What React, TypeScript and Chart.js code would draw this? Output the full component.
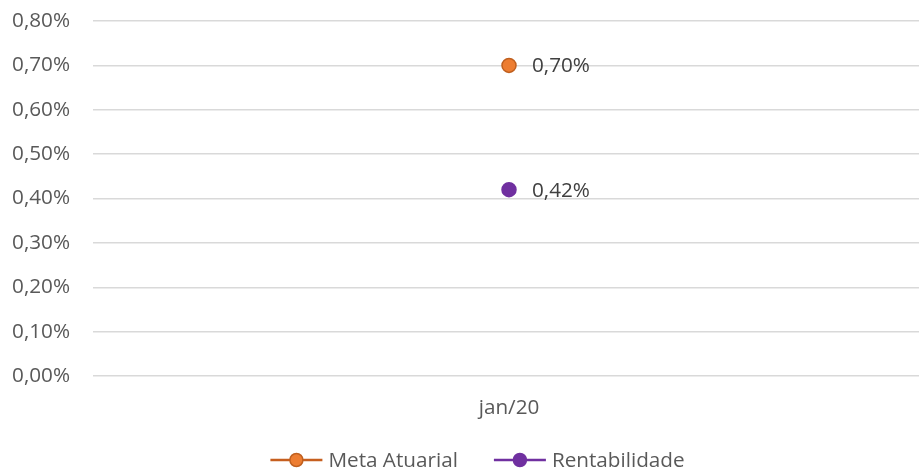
import React, { useEffect, useRef } from "react";
import { Chart, registerables } from "chart.js";

Chart.register(...registerables);

const categories = ["jan/20"];
const seriesNames = ["Meta Atuarial", "Rentabilidade"];
const metaAtuarial = [0.7];
const rentabilidade = [0.42];
const yMin = 0;
const yMax = 0.8;
const yStep = 0.1;

const FONT = "'Open Sans', sans-serif";
const FS = 20.7;
const TEXT = "#595959";
const CANVAS_W = 925;
const VIEW_W = 919;

const SERIES_STYLE = [
  { line: "#C65F1F", fill: "#ED7D31", border: "#C0601F" },
  { line: "#7030A0", fill: "#7030A0", border: "#7030A0" },
];

const fmt = (v: number) => v.toFixed(2).replace(".", ",") + "%";

const labelPlugin = {
  id: "pointLabels",
  afterDatasetsDraw(chart: any) {
    const ctx = chart.ctx;
    ctx.save();
    ctx.font = `${FS}px ${FONT}`;
    ctx.fillStyle = "#404040";
    ctx.textAlign = "left";
    ctx.textBaseline = "middle";
    chart.data.datasets.forEach((ds: any, i: number) => {
      const meta = chart.getDatasetMeta(i);
      meta.data.forEach((pt: any, j: number) => {
        ctx.fillText(fmt(ds.data[j]), pt.x + 23, pt.y + 1);
      });
    });
    ctx.restore();
  },
};

const legendPlugin = {
  id: "lineMarkerLegend",
  afterDraw(chart: any) {
    const ctx = chart.ctx;
    ctx.save();
    ctx.font = `${FS}px ${FONT}`;
    const iconW = 52;
    const gapIconText = 6;
    const gapItems = 36;
    const names = chart.data.datasets.map((d: any) => d.label);
    const widths = names.map((n: string) => ctx.measureText(n).width);
    let total = 0;
    widths.forEach((w: number, i: number) => {
      total += iconW + gapIconText + w + (i < widths.length - 1 ? gapItems : 0);
    });
    const cx = VIEW_W / 2 + 18;
    let x = cx - total / 2;
    const y = chart.height - 10;
    names.forEach((n: string, i: number) => {
      const st = SERIES_STYLE[i];
      ctx.strokeStyle = st.line;
      ctx.lineWidth = 2.5;
      ctx.beginPath();
      ctx.moveTo(x, y);
      ctx.lineTo(x + iconW, y);
      ctx.stroke();
      ctx.beginPath();
      ctx.arc(x + iconW / 2, y, 6.5, 0, Math.PI * 2);
      ctx.fillStyle = st.fill;
      ctx.fill();
      ctx.lineWidth = 1.5;
      ctx.strokeStyle = st.border;
      ctx.stroke();
      ctx.fillStyle = TEXT;
      ctx.textAlign = "left";
      ctx.textBaseline = "middle";
      ctx.fillText(n, x + iconW + gapIconText, y + 1);
      x += iconW + gapIconText + widths[i] + gapItems;
    });
    ctx.restore();
  },
};

export default function App() {
  const ref = useRef<HTMLCanvasElement>(null);
  useEffect(() => {
    document.body.style.margin = "0";
    const chart = new Chart(ref.current!, {
      type: "line",
      data: {
        labels: categories,
        datasets: [metaAtuarial, rentabilidade].map((data, i) => ({
          label: seriesNames[i],
          data,
          borderColor: SERIES_STYLE[i].line,
          backgroundColor: SERIES_STYLE[i].fill,
          pointBackgroundColor: SERIES_STYLE[i].fill,
          pointBorderColor: SERIES_STYLE[i].border,
          pointBorderWidth: 1.5,
          pointRadius: 7,
          pointStyle: "circle",
          showLine: false,
        })),
      },
      options: {
        animation: false,
        responsive: false,
        layout: { autoPadding: false, padding: { top: 21, left: 0, right: 0, bottom: 49 } },
        scales: {
          x: {
            offset: true,
            grid: { display: false },
            border: { display: false },
            ticks: { font: { family: FONT, size: FS }, color: TEXT, padding: 12 },
            afterFit: (s: any) => {
              s.height = 45;
              s.paddingLeft = 0;
              s.paddingRight = 0;
            },
          },
          y: {
            min: yMin,
            max: yMax,
            grid: { color: "#D9D9D9", lineWidth: 1.5, drawTicks: false },
            border: { display: false },
            ticks: {
              stepSize: yStep,
              padding: 23,
              font: { family: FONT, size: FS },
              color: TEXT,
              callback: (v: any) => fmt(Number(v)),
            },
            afterFit: (s: any) => {
              s.width = 93;
              s.paddingTop = 0;
              s.paddingBottom = 0;
            },
          },
        },
        plugins: {
          legend: { display: false },
          tooltip: { enabled: false },
        },
      },
      plugins: [labelPlugin, legendPlugin],
    });
    return () => chart.destroy();
  }, []);
  return (
    <div style={{ width: VIEW_W, height: 470, overflow: "hidden" }}>
      <canvas ref={ref} width={CANVAS_W} height={470} style={{ display: "block" }} />
    </div>
  );
}
